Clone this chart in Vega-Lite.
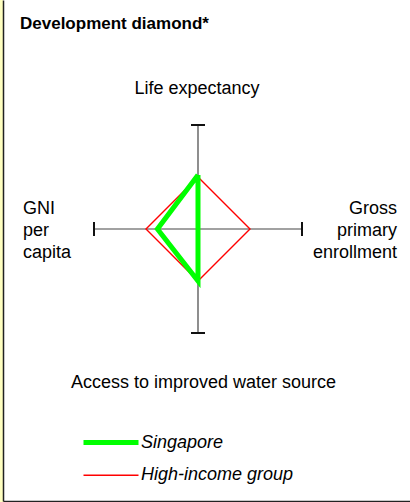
{
  "$schema": "https://vega.github.io/schema/vega-lite/v6.json",
  "width": 407,
  "height": 501,
  "autosize": {"type": "none"},
  "padding": {"left": 3, "top": 0, "right": 0, "bottom": 1},
  "background": "#FFFFC0",
  "config": {
    "font": "Liberation Sans",
    "view": {"fill": "white", "stroke": null}
  },
  "title": {
    "text": "Development diamond*",
    "anchor": "start",
    "frame": "group",
    "orient": "top",
    "offset": 0,
    "dx": 17,
    "dy": 46,
    "baseline": "alphabetic",
    "fontSize": 17,
    "fontWeight": "bold",
    "color": "black"
  },
  "datasets": {
    "axes": [
      {"indicator": "Life expectancy", "x": 0, "y": 1},
      {"indicator": "Gross primary enrollment", "x": 1, "y": 0},
      {"indicator": "Access to improved water source", "x": 0, "y": -1},
      {"indicator": "GNI per capita", "x": -1, "y": 0}
    ],
    "diamond": [
      {"group": "High-income group", "indicator": "Life expectancy", "order": 1, "x": 0, "y": 0.5},
      {"group": "High-income group", "indicator": "Gross primary enrollment", "order": 2, "x": 0.5, "y": 0},
      {"group": "High-income group", "indicator": "Access to improved water source", "order": 3, "x": 0, "y": -0.5},
      {"group": "High-income group", "indicator": "GNI per capita", "order": 4, "x": -0.5, "y": 0},
      {"group": "High-income group", "indicator": "Life expectancy", "order": 5, "x": 0, "y": 0.5},
      {"group": "Singapore", "indicator": "Life expectancy", "order": 1, "x": 0, "y": 0.52},
      {"group": "Singapore", "indicator": "Gross primary enrollment", "order": 2, "x": 0, "y": 0},
      {"group": "Singapore", "indicator": "Access to improved water source", "order": 3, "x": 0, "y": -0.5},
      {"group": "Singapore", "indicator": "GNI per capita", "order": 4, "x": -0.39, "y": 0},
      {"group": "Singapore", "indicator": "Life expectancy", "order": 5, "x": 0, "y": 0.52}
    ]
  },
  "encoding": {
    "x": {
      "field": "x",
      "type": "quantitative",
      "scale": {"domain": [-1.875, 2.0385], "nice": false, "zero": false},
      "axis": {"domainColor": "#222222", "domainWidth": 1.5, "ticks": false, "labels": false, "grid": false, "title": null}
    },
    "y": {
      "field": "y",
      "type": "quantitative",
      "scale": {"domain": [-2.6154, 2.2019], "nice": false, "zero": false},
      "axis": {"domainColor": "#222222", "domainWidth": 1.5, "ticks": false, "labels": false, "grid": false, "title": null}
    }
  },
  "layer": [
    {
      "data": {"name": "axes"},
      "mark": {"type": "rule", "color": "#444444", "strokeWidth": 1.2},
      "encoding": {"x2": {"datum": 0}, "y2": {"datum": 0}}
    },
    {
      "data": {"name": "axes"},
      "transform": [{"filter": "datum.x == 0"}],
      "mark": {"type": "tick", "orient": "horizontal", "size": 14, "thickness": 2, "color": "#111111", "opacity": 1}
    },
    {
      "data": {"name": "axes"},
      "transform": [{"filter": "datum.y == 0"}],
      "mark": {"type": "tick", "orient": "vertical", "size": 14, "thickness": 2, "color": "#111111", "opacity": 1}
    },
    {
      "data": {"name": "diamond"},
      "transform": [{"filter": "datum.group == 'High-income group'"}],
      "mark": {"type": "line", "strokeJoin": "miter"},
      "encoding": {
        "order": {"field": "order", "type": "quantitative"},
        "color": {
          "field": "group",
          "type": "nominal",
          "scale": {"domain": ["Singapore", "High-income group"], "range": ["#00FF00", "#FF0000"]},
          "legend": {
            "title": null,
            "orient": "none",
            "legendX": 78,
            "legendY": 430.5,
            "padding": 0,
            "symbolType": "stroke",
            "symbolSize": 3025,
            "clipHeight": 24,
            "labelFontSize": 18,
            "labelFontStyle": "italic",
            "labelColor": "black",
            "labelOffset": 0,
            "rowPadding": 8.7
          }
        },
        "strokeWidth": {
          "field": "group",
          "type": "nominal",
          "scale": {"domain": ["Singapore", "High-income group"], "range": [5, 1.4]},
          "legend": {
            "title": null,
            "orient": "none",
            "legendX": 78,
            "legendY": 430.5,
            "padding": 0,
            "symbolType": "stroke",
            "symbolSize": 3025,
            "clipHeight": 24,
            "labelFontSize": 18,
            "labelFontStyle": "italic",
            "labelColor": "black",
            "labelOffset": 0,
            "rowPadding": 8.7
          }
        }
      }
    },
    {
      "data": {"name": "diamond"},
      "transform": [{"filter": "datum.group == 'Singapore'"}],
      "mark": {"type": "line", "strokeJoin": "miter"},
      "encoding": {
        "order": {"field": "order", "type": "quantitative"},
        "color": {"field": "group", "type": "nominal"},
        "strokeWidth": {"field": "group", "type": "nominal"}
      }
    },
    {
      "data": {"name": "axes"},
      "transform": [{"filter": "datum.indicator == 'Life expectancy'"}],
      "mark": {"type": "text", "align": "center", "baseline": "alphabetic", "dx": -1, "dy": -31, "fontSize": 18, "color": "black"},
      "encoding": {"text": {"field": "indicator"}}
    },
    {
      "data": {"name": "axes"},
      "transform": [{"filter": "datum.indicator == 'Access to improved water source'"}],
      "mark": {"type": "text", "align": "center", "baseline": "alphabetic", "dx": 5.5, "dy": 55, "fontSize": 18, "color": "black"},
      "encoding": {"text": {"field": "indicator"}}
    },
    {
      "data": {"name": "axes"},
      "transform": [{"filter": "datum.indicator == 'GNI per capita'"}],
      "mark": {"type": "text", "align": "left", "baseline": "alphabetic", "dx": -71, "dy": -15, "fontSize": 18, "lineBreak": " ", "lineHeight": 22, "color": "black"},
      "encoding": {"text": {"field": "indicator"}}
    },
    {
      "data": {"name": "axes"},
      "transform": [{"filter": "datum.indicator == 'Gross primary enrollment'"}],
      "mark": {"type": "text", "align": "right", "baseline": "alphabetic", "dx": 95, "dy": -15, "fontSize": 18, "lineBreak": " ", "lineHeight": 22, "color": "black"},
      "encoding": {"text": {"field": "indicator"}}
    }
  ]
}
